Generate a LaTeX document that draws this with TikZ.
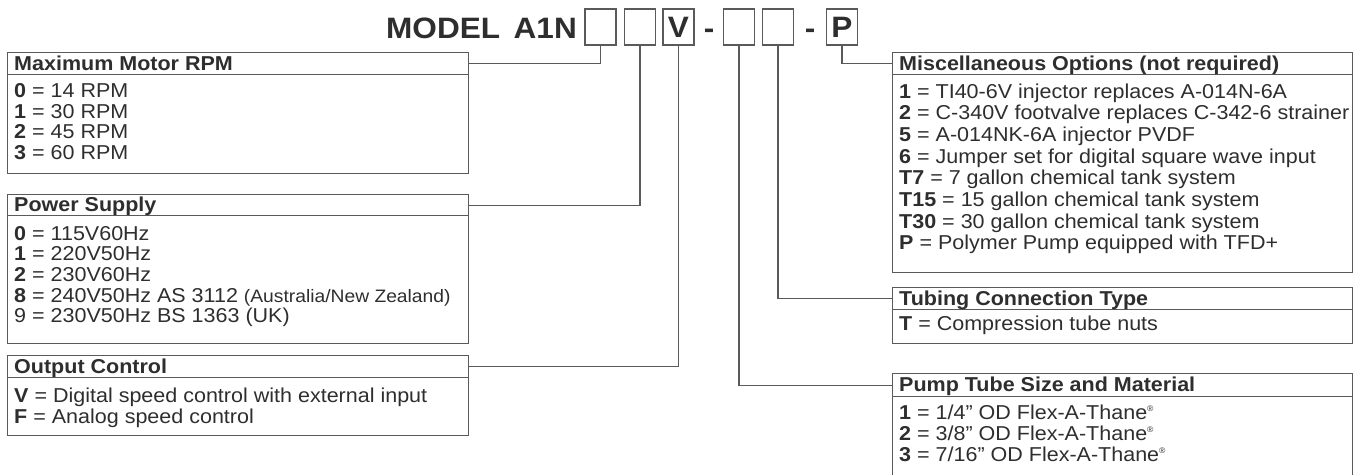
\documentclass[tikz,border=0pt]{standalone}
\usepackage{fontspec}
\setmainfont[FakeStretch=1.07]{Liberation Sans}
\definecolor{txtc}{HTML}{2E2E2E}
\definecolor{linec}{HTML}{5A5A5A}
\newcommand{\regm}{\raisebox{8pt}{\fontsize{8}{8}\selectfont ®}}
\begin{document}
\begin{tikzpicture}[x=1pt,y=-1pt,
  frame/.style={draw=linec, line width=1.4pt, inner sep=0pt, anchor=north west},
  txt/.style={anchor=base west, inner sep=0pt, text=txtc, font=\fontsize{20.1}{24}\selectfont},
  hd/.style={anchor=base west, inner sep=0pt, text=txtc, font=\fontsize{20.1}{24}\selectfont\bfseries},
  lead/.style={draw=linec, line width=1.4pt},
  cbox/.style={draw=linec, line width=1.4pt, minimum width=31pt, minimum height=36pt, inner sep=0pt, text=txtc, font=\fontsize{29.5}{30}\selectfont\bfseries},
  ttl/.style={anchor=base, inner sep=0pt, text=txtc, font=\fontsize{29.5}{30}\selectfont\bfseries}]
\useasboundingbox (0,0) rectangle (1359,474);
\clip (0,0) rectangle (1359,474);
% title
\node[ttl, anchor=base west] (model) at (386,38.5) {MODEL};
\node[ttl, anchor=base east] (a1n) at (577,38.5) {A1N};
\node[cbox] (m1) at (600.5,27) {};
\node[cbox] (m2) at (640,27) {};
\node[cbox] (m3) at (678.5,27) {V};
\node[ttl] (d1) at (709,38.5) {-};
\node[cbox] (m4) at (739,27) {};
\node[cbox] (m5) at (778,27) {};
\node[ttl] (d2) at (810,38.5) {-};
\node[cbox] (m6) at (842,27) {P};
% Box A
\node[frame, minimum width=461pt, minimum height=121pt] (bA) at (7,52) {};
\node[frame, minimum width=461pt, minimum height=22pt] (hA) at (7,52) {};
\node[hd] (tA) at (14,70) {Maximum Motor RPM};
\node[txt] (a0) at (14,97.5) {\textbf{0} = 14 RPM};
\node[txt] (a1) at (14,118) {\textbf{1} = 30 RPM};
\node[txt] (a2) at (14,138.5) {\textbf{2} = 45 RPM};
\node[txt] (a3) at (14,159) {\textbf{3} = 60 RPM};
% Box B
\node[frame, minimum width=461pt, minimum height=149pt] (bB) at (7,194) {};
\node[frame, minimum width=461pt, minimum height=21pt] (hB) at (7,194) {};
\node[hd] (tB) at (14,211.5) {Power Supply};
\node[txt] (b0) at (14,240) {\textbf{0} = 115V60Hz};
\node[txt] (b1) at (14,260.7) {\textbf{1} = 220V50Hz};
\node[txt] (b2) at (14,281.4) {\textbf{2} = 230V60Hz};
\node[txt] (b8) at (14,302.1) {\textbf{8} = 240V50Hz AS 3112 {\fontsize{18}{20}\selectfont (Australia/New Zealand)}};
\node[txt] (b9) at (14,322.8) {9 = 230V50Hz BS 1363 (UK)};
% Box C
\node[frame, minimum width=461pt, minimum height=80pt] (bC) at (7,355) {};
\node[frame, minimum width=461pt, minimum height=22pt] (hC) at (7,355) {};
\node[hd] (tC) at (14,373) {Output Control};
\node[txt] (cV) at (14,402) {\textbf{V} = Digital speed control with external input};
\node[txt] (cF) at (14,423) {\textbf{F} = Analog speed control};
% Misc box
\node[frame, minimum width=460pt, minimum height=220pt] (bM) at (892,52) {};
\node[frame, minimum width=460pt, minimum height=22pt] (hM) at (892,52) {};
\node[hd] (tM) at (899,70) {Miscellaneous Options (not required)};
\node[txt] (x1) at (899,98) {\textbf{1} = TI40-6V injector replaces A-014N-6A};
\node[txt] (x2) at (899,119.7) {\textbf{2} = C-340V footvalve replaces C-342-6 strainer};
\node[txt] (x5) at (899,141.4) {\textbf{5} = A-014NK-6A injector PVDF};
\node[txt] (x6) at (899,163.1) {\textbf{6} = Jumper set for digital square wave input};
\node[txt] (x7) at (899,184.8) {\textbf{T7} = 7 gallon chemical tank system};
\node[txt] (x15) at (899,206.5) {\textbf{T15} = 15 gallon chemical tank system};
\node[txt] (x30) at (899,228.2) {\textbf{T30} = 30 gallon chemical tank system};
\node[txt] (xP) at (899,249.9) {\textbf{P} = Polymer Pump equipped with TFD+};
% Tubing box
\node[frame, minimum width=460pt, minimum height=56pt] (bT) at (892,287) {};
\node[frame, minimum width=460pt, minimum height=22pt] (hT) at (892,287) {};
\node[hd] (tT) at (899,305) {Tubing Connection Type};
\node[txt] (tT1) at (899,330) {\textbf{T} = Compression tube nuts};
% Pump box
\node[frame, minimum width=460pt, minimum height=130pt] (bP) at (892,373) {};
\node[frame, minimum width=460pt, minimum height=23pt] (hP) at (892,373) {};
\node[hd] (tP) at (899,391) {Pump Tube Size and Material};
\node[txt] (p1) at (899,419) {\textbf{1} = 1/4” OD Flex-A-Thane\regm};
\node[txt] (p2) at (899,440) {\textbf{2} = 3/8” OD Flex-A-Thane\regm};
\node[txt] (p3) at (899,461) {\textbf{3} = 7/16” OD Flex-A-Thane\regm};
% leaders
\draw[lead] (m1.south) |- (hA.east);
\draw[lead] (m2.south) |- (hB.east);
\draw[lead] (m3.south) |- (hC.east);
\draw[lead] (m4.south) |- (hP.west);
\draw[lead] (m5.south) |- (hT.west);
\draw[lead] (m6.south) |- (hM.west);
\end{tikzpicture}
\end{document}
